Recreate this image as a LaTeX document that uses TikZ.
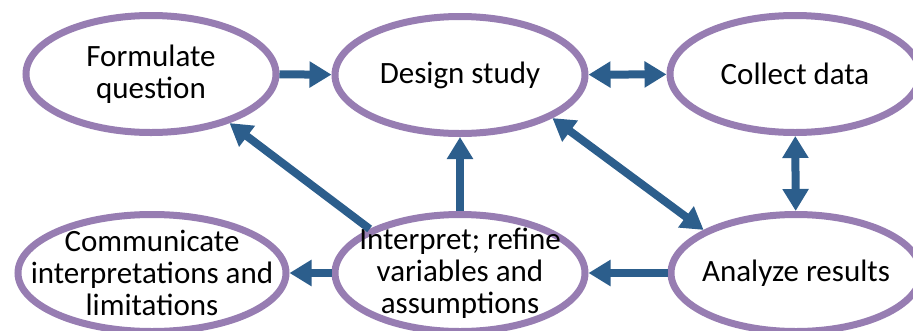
\documentclass[tikz,border=0pt]{standalone}
\usepackage{fontspec}
\setmainfont{Carlito}
\usetikzlibrary{shapes.geometric,arrows.meta}
\definecolor{ringpurple}{RGB}{151,125,178}
\definecolor{linkblue}{RGB}{44,94,140}
\begin{document}
\begin{tikzpicture}[x=1pt,y=-1pt,
  stage/.style={ellipse,draw=ringpurple,line width=7pt,fill=white,minimum width=#1,minimum height=117pt,inner sep=0pt},
  stage/.default=250pt,
  every label/.style={align=center,font=\fontsize{31}{32}\selectfont},
  link/.style={draw=linkblue,line width=8pt,-{Triangle[length=22pt,width=25pt]}},
  twolink/.style={link,{Triangle[length=22pt,width=25pt]}-{Triangle[length=22pt,width=25pt]}}]
\useasboundingbox (0,0) rectangle (913,330);
\node[stage] (form) at (151,74) [label=center:{Formulate\\question}] {};
\node[stage] (design) at (460,75) [label=center:{Design study}] {};
\node[stage] (collect) at (795,74) [label=center:{Collect data}] {};
\node[stage=268pt] (comm) at (152,273) [label=center:{Communicate\\interpretations and\\limitations}] {};
\node[stage] (interp) at (460,273) [label=center:{Interpret; refine\\variables and\\assumptions}] {};
\node[stage] (analyze) at (796,273) [label=center:{Analyze results}] {};
\draw[link] (form) -- (design);
\draw[twolink] (design) -- (collect);
\draw[twolink] (collect) -- (analyze);
\draw[twolink] (design.-25) -- (analyze.155);
\draw[link] (interp.154) -- (form.-32);
\draw[link] (interp) -- (design);
\draw[link] (analyze) -- (interp);
\draw[link] (interp) -- (comm);
\end{tikzpicture}
\end{document}
